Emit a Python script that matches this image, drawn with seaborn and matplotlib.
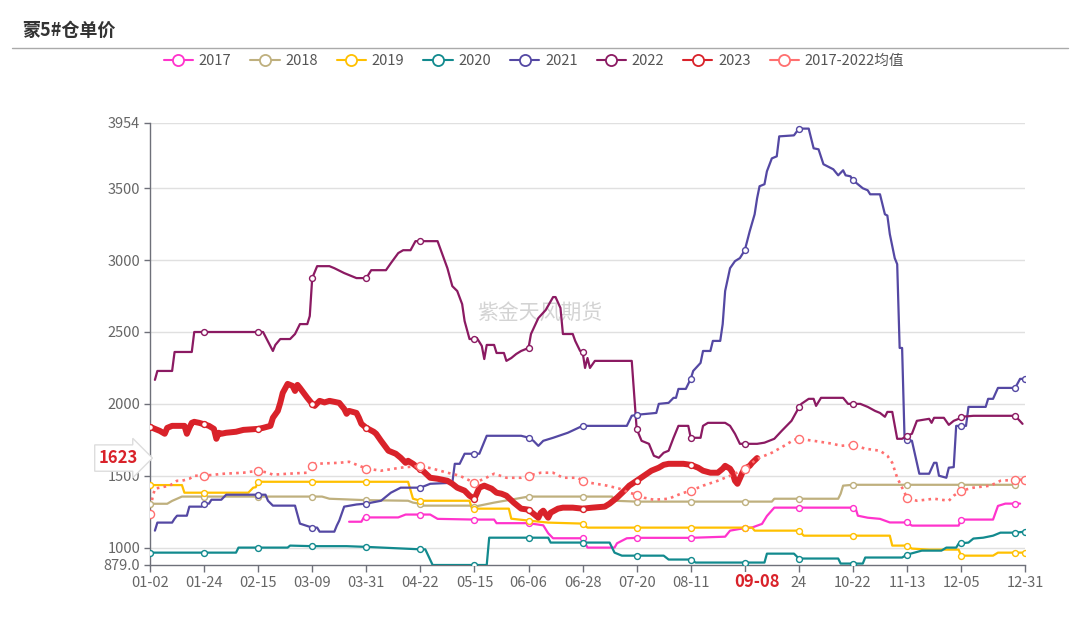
import numpy as np
import pandas as pd
import seaborn as sns
import matplotlib.pyplot as plt
from matplotlib.lines import Line2D

# x = trading-day index on a category axis (0 = 01-02, 356 = 12-31)
tick_pos = [0, 22, 44, 66, 88, 110, 132, 154, 176, 198, 220, 242, 264, 286, 308, 330, 356]
tick_labels = ['01-02', '01-24', '02-15', '03-09', '03-31', '04-22', '05-15', '06-06', '06-28',
               '07-20', '08-11', '', '24', '10-22', '11-13', '12-05', '12-31']

x_2017 = [81, 86, 87, 88, 101, 104, 110, 114, 117, 132, 140, 141, 154, 160, 162, 164, 176, 178, 189, 190,
          194, 198, 220, 234, 236, 240, 242, 245, 249, 251, 254, 264, 286, 287, 288, 292, 297, 301, 308, 310,
          329, 330, 343, 345, 348, 352, 354]
v_2017 = [1180, 1180, 1210, 1210, 1210, 1230, 1230, 1230, 1200, 1195, 1195, 1170, 1170, 1155, 1100, 1065, 1065, 1000, 1000, 1030,
          1065, 1068, 1068, 1076, 1118, 1130, 1135, 1140, 1165, 1220, 1278, 1278, 1278, 1278, 1222, 1208, 1200, 1175, 1175, 1153,
          1153, 1195, 1195, 1290, 1306, 1306, 1306]

x_2018 = [0, 7, 9, 11, 13, 22, 44, 66, 70, 73, 88, 105, 107, 110, 111, 130, 132, 140, 154, 176,
          188, 189, 198, 220, 242, 253, 254, 264, 280, 281, 282, 286, 308, 330, 352]
v_2018 = [1305, 1305, 1325, 1340, 1355, 1355, 1355, 1355, 1355, 1340, 1330, 1326, 1313, 1305, 1292, 1292, 1285, 1313, 1355, 1355,
          1355, 1326, 1320, 1320, 1320, 1320, 1340, 1340, 1340, 1375, 1431, 1437, 1437, 1437, 1437]

x_2019 = [0, 13, 14, 22, 40, 42, 43, 44, 66, 88, 105, 107, 110, 130, 131, 132, 146, 147, 154, 162,
          176, 178, 198, 220, 242, 245, 246, 264, 266, 286, 301, 302, 308, 310, 317, 329, 330, 343, 345, 352, 356]
v_2019 = [1435, 1435, 1382, 1382, 1382, 1417, 1420, 1458, 1458, 1458, 1458, 1340, 1326, 1326, 1271, 1271, 1271, 1201, 1188, 1174,
          1167, 1139, 1139, 1139, 1139, 1139, 1118, 1118, 1083, 1083, 1083, 1014, 1014, 993, 986, 986, 944, 944, 965, 965, 965]

x_2020 = [0, 22, 35, 36, 44, 56, 57, 66, 80, 88, 110, 112, 115, 132, 137, 138, 154, 162, 163, 176,
          187, 189, 192, 198, 209, 211, 220, 222, 242, 250, 251, 262, 264, 280, 281, 286, 290, 291, 306, 308,
          311, 314, 322, 324, 328, 329, 330, 333, 335, 339, 343, 346, 352, 356]
v_2020 = [965, 965, 965, 1000, 1000, 1000, 1014, 1010, 1010, 1005, 988, 988, 879, 879, 879, 1069, 1069, 1069, 1035, 1035,
          1035, 965, 944, 944, 944, 917, 917, 896, 896, 896, 958, 958, 924, 924, 889, 889, 889, 931, 931, 951,
          965, 979, 979, 1000, 1000, 1028, 1030, 1035, 1063, 1069, 1083, 1104, 1104, 1111]

x_2021 = [2, 3, 9, 10, 11, 15, 16, 21, 22, 24, 25, 29, 31, 44, 47, 48, 50, 59, 61, 66,
          68, 69, 75, 76, 77, 79, 84, 88, 94, 98, 102, 110, 114, 123, 124, 126, 128, 132, 134, 137,
          151, 154, 156, 158, 160, 164, 170, 176, 194, 196, 198, 206, 207, 211, 213, 214, 215, 218, 220, 221,
          224, 225, 228, 229, 232, 233, 234, 236, 238, 240, 242, 244, 246, 247, 248, 250, 251, 253, 255, 256,
          262, 264, 268, 270, 272, 274, 278, 280, 282, 283, 285, 286, 290, 292, 293, 297, 299, 300, 301, 303,
          304, 305, 306, 307, 308, 310, 313, 317, 319, 320, 321, 324, 325, 327, 328, 330, 332, 333, 340, 341,
          343, 345, 352, 354, 356]
v_2021 = [1118, 1174, 1174, 1201, 1222, 1222, 1285, 1285, 1306, 1306, 1333, 1333, 1368, 1368, 1368, 1326, 1292, 1292, 1167, 1139,
          1139, 1111, 1111, 1153, 1188, 1285, 1300, 1306, 1326, 1382, 1417, 1417, 1444, 1451, 1583, 1583, 1653, 1653, 1653, 1778,
          1778, 1765, 1743, 1708, 1743, 1764, 1799, 1847, 1847, 1917, 1924, 1937, 2000, 2007, 2042, 2042, 2104, 2104, 2174, 2229,
          2285, 2368, 2368, 2438, 2438, 2555, 2785, 2944, 2993, 3014, 3069, 3201, 3319, 3430, 3514, 3528, 3618, 3708, 3722, 3861,
          3868, 3915, 3915, 3778, 3771, 3667, 3632, 3590, 3625, 3590, 3583, 3556, 3500, 3486, 3458, 3458, 3319, 3310, 3181, 3014,
          2972, 2389, 2389, 1757, 1752, 1743, 1514, 1514, 1590, 1590, 1500, 1486, 1556, 1560, 1847, 1847, 1847, 1979, 1979, 2035,
          2035, 2111, 2111, 2174, 2174]

x_2022 = [2, 3, 9, 10, 17, 18, 22, 44, 46, 50, 51, 53, 57, 59, 61, 64, 65, 66, 68, 73,
          75, 79, 84, 88, 90, 96, 98, 101, 103, 106, 108, 110, 117, 121, 123, 125, 127, 128, 130, 132,
          133, 135, 136, 137, 140, 141, 144, 145, 147, 149, 151, 154, 155, 158, 161, 164, 165, 167, 168, 172,
          173, 175, 176, 177, 178, 179, 181, 196, 198, 200, 203, 205, 207, 209, 211, 213, 215, 219, 220, 224,
          225, 227, 234, 236, 238, 240, 242, 247, 250, 254, 257, 261, 264, 265, 268, 270, 271, 273, 282, 284,
          286, 289, 292, 295, 297, 299, 300, 302, 304, 306, 308, 310, 312, 317, 318, 319, 323, 325, 327, 329,
          330, 335, 352, 355]
v_2022 = [2167, 2229, 2229, 2361, 2361, 2500, 2500, 2500, 2500, 2368, 2410, 2451, 2451, 2486, 2555, 2555, 2611, 2875, 2958, 2958,
          2944, 2910, 2875, 2875, 2930, 2930, 2979, 3049, 3069, 3069, 3132, 3132, 3132, 2944, 2819, 2785, 2694, 2576, 2451, 2451,
          2458, 2403, 2312, 2410, 2410, 2354, 2354, 2299, 2319, 2347, 2368, 2389, 2486, 2597, 2653, 2743, 2743, 2667, 2486, 2486,
          2438, 2368, 2361, 2250, 2319, 2250, 2299, 2299, 1826, 1743, 1722, 1639, 1625, 1660, 1674, 1764, 1847, 1847, 1764, 1764,
          1847, 1868, 1868, 1847, 1792, 1722, 1722, 1722, 1730, 1757, 1812, 1882, 1975, 2000, 2035, 2035, 1986, 2042, 2042, 2000,
          2000, 2000, 1979, 1951, 1937, 1910, 1944, 1944, 1757, 1757, 1778, 1792, 1882, 1896, 1868, 1903, 1903, 1854, 1882, 1896,
          1910, 1917, 1917, 1861]

x_2023 = [0, 2, 4, 6, 7, 9, 14, 15, 16, 17, 18, 20, 22, 24, 26, 27, 28, 29, 31, 35,
          38, 44, 46, 49, 50, 52, 53, 54, 56, 58, 59, 60, 61, 64, 66, 67, 69, 71, 73, 77,
          79, 80, 81, 84, 85, 86, 88, 91, 92, 94, 97, 100, 102, 104, 105, 107, 109, 110, 111, 114,
          117, 121, 123, 125, 128, 130, 132, 134, 136, 139, 141, 143, 145, 148, 151, 154, 156, 158, 159, 160,
          162, 163, 166, 168, 172, 176, 180, 185, 187, 190, 193, 195, 198, 201, 204, 207, 209, 211, 217, 220,
          223, 225, 228, 231, 233, 234, 236, 237, 238, 239, 240, 241, 242, 244, 245, 247]
v_2023 = [1840, 1826, 1812, 1792, 1833, 1847, 1847, 1792, 1833, 1868, 1875, 1868, 1858, 1847, 1826, 1757, 1799, 1792, 1799, 1806,
          1819, 1826, 1833, 1847, 1903, 1951, 2007, 2076, 2139, 2125, 2090, 2132, 2111, 2042, 2000, 1986, 2021, 2010, 2021, 2007,
          1965, 1931, 1951, 1937, 1903, 1861, 1833, 1806, 1792, 1743, 1674, 1653, 1625, 1590, 1604, 1583, 1556, 1545, 1535, 1486,
          1479, 1465, 1444, 1417, 1396, 1361, 1340, 1417, 1431, 1410, 1382, 1375, 1361, 1313, 1271, 1264, 1236, 1208, 1243, 1257,
          1208, 1243, 1271, 1278, 1278, 1271, 1278, 1285, 1306, 1347, 1396, 1431, 1465, 1500, 1535, 1556, 1576, 1583, 1583, 1576,
          1556, 1535, 1521, 1521, 1549, 1569, 1549, 1521, 1465, 1444, 1482, 1521, 1549, 1569, 1590, 1623]

x_mean = [0, 1, 2, 4, 8, 11, 13, 16, 18, 22, 30, 38, 44, 48, 50, 56, 64, 66, 67, 77,
          81, 88, 94, 102, 110, 115, 121, 126, 132, 136, 140, 145, 151, 154, 159, 164, 168, 174, 176, 179,
          186, 191, 195, 198, 201, 205, 211, 216, 220, 225, 231, 238, 242, 247, 253, 258, 262, 264, 270, 278,
          281, 286, 291, 297, 300, 302, 304, 306, 308, 312, 319, 325, 327, 330, 335, 342, 346, 352, 356]
v_mean = [1236, 1347, 1410, 1417, 1431, 1465, 1465, 1479, 1500, 1500, 1514, 1521, 1535, 1521, 1507, 1514, 1521, 1569, 1583, 1590,
          1597, 1550, 1535, 1556, 1569, 1549, 1521, 1500, 1451, 1479, 1514, 1486, 1486, 1500, 1521, 1521, 1486, 1486, 1465, 1451,
          1431, 1410, 1382, 1368, 1347, 1333, 1340, 1375, 1396, 1431, 1465, 1514, 1549, 1618, 1660, 1708, 1750, 1757, 1743, 1722,
          1708, 1715, 1688, 1674, 1639, 1590, 1486, 1417, 1347, 1326, 1340, 1326, 1361, 1396, 1417, 1431, 1465, 1472, 1472]

names = ['2017', '2018', '2019', '2020', '2021', '2022', '2023', '2017-2022均值']
colors = ['#FF33CC', '#BFB07E', '#FFC000', '#128A8E', '#5448A3', '#8B1A62', '#D9222A', '#FF6F6F']
xs = [x_2017, x_2018, x_2019, x_2020, x_2021, x_2022, x_2023, x_mean]
vs = [v_2017, v_2018, v_2019, v_2020, v_2021, v_2022, v_2023, v_mean]

sns.set_theme(style='white')
plt.rcParams['font.family'] = ['Noto Sans CJK SC', 'DejaVu Sans']

fig = plt.figure(figsize=(10.8, 6.4), dpi=100)
ax = fig.add_axes([150 / 1080, 1 - 565 / 640, 875 / 1080, 442 / 640])

for k, (name, c, x, v) in enumerate(zip(names, colors, xs, vs)):
    df = pd.DataFrame({'day': x, 'price': v})
    lw = 4.3 if name == '2023' else 1.6
    ls = (0, (1, 1.6)) if name.startswith('2017-') else '-'
    if name.startswith('2017-'):
        lw = 1.9
    sns.lineplot(data=df, x='day', y='price', ax=ax, color=c, linewidth=lw, linestyle=ls,
                 estimator=None, sort=False, zorder=3 + k)
    mk = df[(df['day'] % 22 == 0) | (df['day'] == 356)]
    ms = 34 if name.startswith('2017-') else 18
    ax.scatter(mk['day'], mk['price'], s=ms, facecolor='white', edgecolor=c, linewidth=1, zorder=20 + k)

ax.set_xlim(0, 356)
ax.set_ylim(879, 3954)
yt = [879, 1000, 1500, 2000, 2500, 3000, 3500, 3954]
ax.set_yticks(yt)
ax.set_yticklabels(['879.0', '1000', '1500', '2000', '2500', '3000', '3500', '3954'])
for y in yt[1:]:
    ax.axhline(y, color='#E0E0E0', lw=1, zorder=1)
ax.set_xticks(tick_pos)
ax.set_xticklabels(tick_labels)
ax.set_xlabel('')
ax.set_ylabel('')
for s in ['top', 'right']:
    ax.spines[s].set_visible(False)
for s in ['left', 'bottom']:
    ax.spines[s].set_color('#6E7079')
    ax.spines[s].set_linewidth(1)
ax.tick_params(axis='both', direction='out', color='#6E7079', labelcolor='#666666', labelsize=10.5,
               width=1, bottom=True, left=True)
ax.tick_params(axis='x', length=5, pad=3)
ax.tick_params(axis='y', length=4, pad=3)

# watermark
ax.text(0.446, 0.57, '紫金天风期货', transform=ax.transAxes, ha='center', va='center',
        fontsize=15, color='#C8C8C8', alpha=0.8, zorder=2)

# current value / current date pointer labels
ax.text(-0.036, 1623, '1623', transform=ax.get_yaxis_transform(), ha='center', va='center',
        fontsize=12, fontweight='bold', color='#D9222A', zorder=30, clip_on=False,
        bbox=dict(boxstyle='rarrow,pad=0.25', fc='white', ec='#DDDDDD', lw=1))
ax.annotate('09-08', xy=(247, 0), xycoords=('data', 'axes fraction'), xytext=(0, -12.5),
            textcoords='offset points', ha='center', va='center', fontsize=12, fontweight='bold',
            color='#D9222A', zorder=30, annotation_clip=False,
            bbox=dict(boxstyle='square,pad=0.1', fc='white', ec='none'))

# title and separator
fig.text(22 / 1080, 1 - 30 / 640, '蒙5#仓单价', fontsize=13, fontweight='bold', color='#333333',
         ha='left', va='center')
fig.add_artist(Line2D([12 / 1080, 1068 / 1080], [1 - 48 / 640, 1 - 48 / 640], color='#AAAAAA', lw=1))

handles = [Line2D([], [], color=c, lw=1.5, marker='o', markersize=8, markerfacecolor='white',
                  markeredgewidth=1.3) for c in colors]
leg = fig.legend(handles, names, loc='center', bbox_to_anchor=(534 / 1080, 1 - 61 / 640), ncol=8,
                 frameon=False, fontsize=10.5, handlelength=2.0, handletextpad=0.4, columnspacing=1.3)
for t in leg.get_texts():
    t.set_color('#555555')

plt.savefig('out.png', dpi=100)
